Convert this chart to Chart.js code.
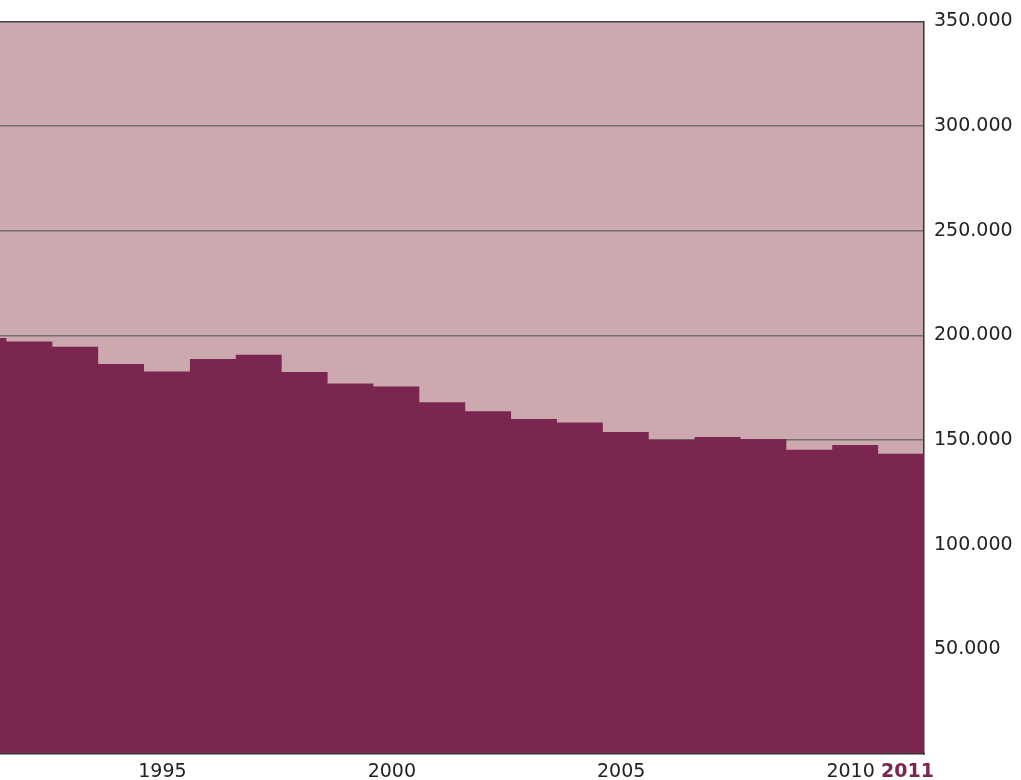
<!DOCTYPE html>
<html>
<head>
<meta charset="utf-8">
<script src="https://cdn.jsdelivr.net/npm/chart.js@4/dist/chart.umd.min.js"></script>
<style>
  html, body { margin: 0; padding: 0; background: #ffffff; }
  #wrap { width: 1021px; height: 780px; position: relative; }
</style>
</head>
<body>
<div id="wrap"><canvas id="c" width="1021" height="780"></canvas></div>
<script>
// Data
const years = [1991, 1992, 1993, 1994, 1995, 1996, 1997, 1998, 1999, 2000, 2001,
               2002, 2003, 2004, 2005, 2006, 2007, 2008, 2009, 2010, 2011];
const values = [198700, 197100, 194600, 186300, 182700, 188700, 190800, 182500, 177000, 175600, 168100,
                163700, 160100, 158400, 153800, 150100, 151400, 150500, 145400, 147600, 143500];
const xTickYears = [1995, 2000, 2005, 2010, 2011];
const xTickLabels = ['1995', '2000', '2005', '2010', '2011'];
const yTickValues = [50000, 100000, 150000, 200000, 250000, 300000, 350000];

// stepped series: each year spans [year-0.5, year+0.5]
const points = [{ x: years[0] - 0.5, y: values[0] }].concat(
  years.map((y, i) => ({ x: y + 0.5, y: values[i] }))
);

const FONT = 'DejaVu Sans';
const MAROON = '#7b2650';

const bgPlugin = {
  id: 'plotBg',
  beforeDraw(chart) {
    const { ctx, chartArea: a } = chart;
    ctx.save();
    ctx.fillStyle = '#cca9ae';
    ctx.fillRect(a.left, a.top, a.right - a.left, a.bottom - a.top);
    ctx.restore();
  }
};

new Chart(document.getElementById('c'), {
  type: 'line',
  data: {
    datasets: [{
      data: points,
      stepped: 'after',
      fill: 'origin',
      backgroundColor: MAROON,
      borderColor: MAROON,
      borderWidth: 0,
      pointRadius: 0,
      tension: 0
    }]
  },
  options: {
    responsive: false,
    animation: false,
    events: [],
    layout: { padding: { top: 19, left: 0, right: 0, bottom: 0 } },
    plugins: { legend: { display: false }, tooltip: { enabled: false } },
    scales: {
      x: {
        type: 'linear',
        min: 1991.36,
        max: 2011.5,
        grid: { display: false, drawTicks: false },
        border: { display: true, color: '#333333', width: 1.5, z: 1 },
        afterBuildTicks(scale) {
          scale.ticks = xTickYears.map((y, i) => ({ value: y + (i === xTickYears.length - 1 ? 0.14 : -0.1) }));
        },
        afterFit(scale) { scale.height = 26; },
        ticks: {
          autoSkip: false,
          maxRotation: 0,
          padding: 7,
          color: (ctx) => ctx.index === xTickLabels.length - 1 ? MAROON : '#222222',
          font: (ctx) => ctx.index === xTickLabels.length - 1
            ? { family: FONT, size: 19, weight: 'bold' }
            : { family: FONT, size: 19, weight: 'normal' },
          callback: (v, i) => xTickLabels[i]
        }
      },
      y: {
        position: 'right',
        min: 0,
        max: 350000,
        afterBuildTicks(scale) {
          scale.ticks = yTickValues.map(v => ({ value: v }));
        },
        afterFit(scale) { scale.width = 97; },
        grid: {
          drawTicks: false,
          color: (ctx) => ctx.tick && ctx.tick.value === 350000 ? '#444444' : '#707070',
          lineWidth: 1.5
        },
        border: { display: true, color: '#333333', width: 1.5 },
        ticks: {
          padding: 10,
          color: '#222222',
          font: { family: FONT, size: 19 },
          callback: (v) => v.toLocaleString('de-DE')
        }
      }
    }
  },
  plugins: [bgPlugin]
});
</script>
</body>
</html>
